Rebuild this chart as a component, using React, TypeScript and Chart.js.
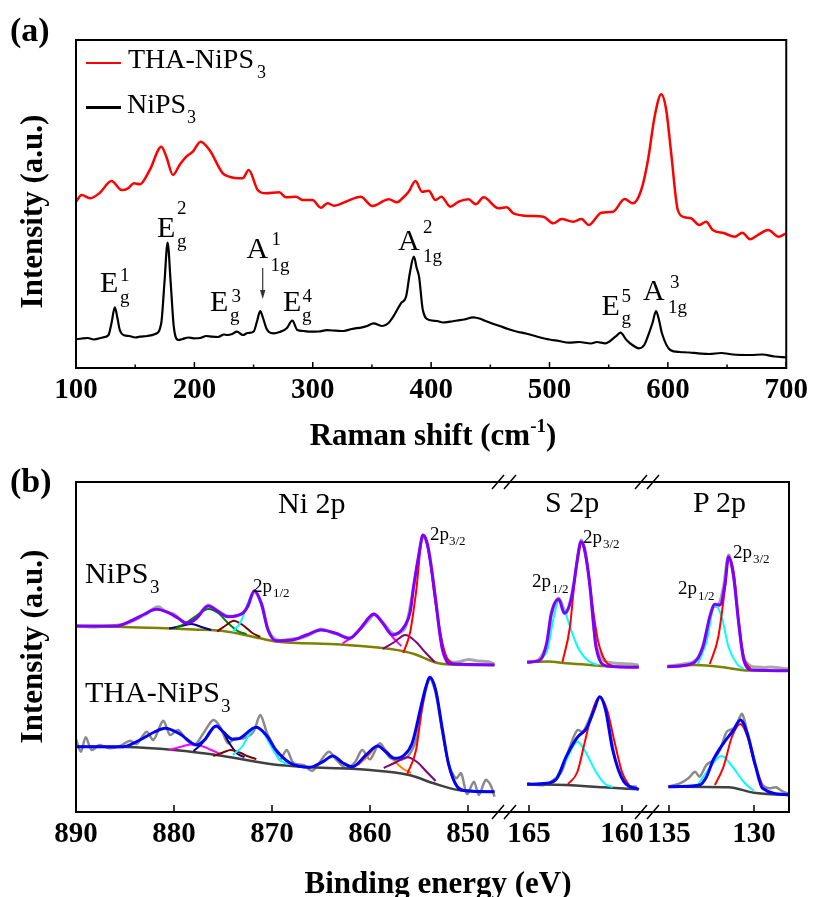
import React, { useEffect, useRef } from "react";
import { Chart, registerables } from "chart.js";
Chart.register(...registerables);

const SERIF = "'Liberation Serif', 'Times New Roman', Times, serif";
type P = [number, number];

// ---------- (a) Raman ----------
const ramanTicks = [100, 200, 300, 400, 500, 600, 700];
const ramanMinorTicks = [150, 250, 350, 450, 550, 650];

const ramanNiPS3: P[] = [
  [100, 28.7], [105, 29.5], [110, 30], [115, 28.5], [123, 30.7], [127.5, 33], [130, 45], [132.8, 60.7], [135, 50], [137, 38],
  [140.6, 32.7], [145, 32], [150, 30.5], [153.8, 31.3], [160, 32], [166.9, 34], [172, 44.7], [174.7, 85], [177.4, 125.3],
  [180, 85], [182.6, 41.3], [186.5, 28], [190, 29], [195, 30.5], [199.6, 29.7], [205, 30], [210, 32], [215, 31.3], [220, 31],
  [225, 33.5], [228, 33], [232, 34], [236, 36.3], [241, 33], [245, 35], [250, 36.3], [253, 47], [255.6, 57], [258, 50],
  [260.8, 39.7], [263, 36], [267, 34.7], [272, 36], [278, 39.7], [282.7, 47.3], [287, 38], [292, 37], [298, 36.3], [305, 36.5],
  [312, 37.8], [319.8, 37.3], [326, 37], [333, 39], [341.7, 40.7], [346, 42], [351.3, 44.7], [359, 42], [364, 45], [368, 51.3],
  [374.5, 64.7], [378.8, 71.3], [382, 94.7], [385.4, 111.3], [387.8, 100], [389.8, 91.3], [393, 58], [398.5, 48], [405, 47],
  [410, 45.5], [416, 46.3], [422, 47.5], [428, 48.5], [435.6, 50.7], [442, 49], [446, 47], [451, 44.7], [458, 42], [465, 39],
  [472.8, 36.3], [480, 34.5], [488, 32], [494.7, 29.7], [500, 28.5], [508, 27], [516.5, 25.3], [525, 26], [535, 24.5], [540, 26],
  [547, 24.7], [555.7, 31.3], [560, 35.3], [565, 28], [570, 23], [575.5, 19.7], [580, 23], [584, 34.7], [587, 45], [590, 57],
  [592.5, 48], [595, 34.7], [602, 18], [610, 16], [618, 15.5], [625.7, 14.7], [635, 14], [645, 15], [655, 13.5], [669.4, 13],
  [680, 13.5], [690, 11.5], [700, 10.7],
];

const ramanTHA: P[] = [
  [100, 166.3], [104.8, 173], [111.8, 169.7], [120.2, 175.3], [130, 187], [138.5, 178], [144, 179.7], [149, 184.7], [153.9, 183.7],
  [162.3, 198], [172.1, 221.3], [176.3, 211.3], [181.9, 193], [187.5, 203], [193.2, 211.3], [198.7, 216.3], [205.2, 226.3],
  [212.8, 218], [224, 194.7], [229.6, 191.3], [240.8, 189.7], [245.9, 198], [253.5, 178], [260.5, 174.7], [271.7, 175.7],
  [277.4, 170.7], [285.8, 171.3], [291.3, 168], [299.7, 168], [306.8, 160.3], [312.4, 164.7], [318, 162.3], [327.9, 166.3],
  [340.5, 171.3], [350.3, 162], [364.3, 168.7], [371.3, 165.7], [376, 170], [381, 176.3], [386.8, 187], [392.3, 176.3],
  [398, 177.3], [403.6, 168], [408.7, 171.3], [416.2, 161.3], [423.2, 166.3], [431.6, 168.7], [437.8, 163.7], [444.3, 170.7],
  [456.9, 159.7], [463.9, 160.7], [469.5, 154.7], [484.9, 152], [494.8, 151.3], [503.2, 144.7], [510.2, 149], [520, 146.3],
  [527, 149], [533.2, 143], [543.8, 155.3], [553.7, 156.3], [563.5, 169], [570.5, 164.7], [577.5, 178], [583.2, 208],
  [588.8, 251.3], [594.4, 273.7], [598.6, 258], [602.8, 214.7], [608.4, 158], [614.1, 150.7], [619.6, 149.7], [626.7, 143],
  [632.3, 146.3], [637.9, 138], [647.6, 134.7], [656.4, 131.3], [663, 135.3], [669.5, 128.7], [676, 133], [684.8, 138],
  [693.5, 131.3], [700, 134.7],
];

// ---------- (b) XPS ----------
const niTicks = [890, 880, 870, 860, 850];
const sTicks = [165, 160];
const pTicks = [135, 130];

// NiPS3, Ni 2p
const niEnvA: P[] = [
  [890, 186], [887.5, 186], [885.9, 186], [884.2, 192], [883, 198], [881.8, 202.7], [880.8, 200.3], [879.6, 194], [878.7, 188.7],
  [877.7, 193.7], [876.5, 206], [875.7, 202], [874.5, 195.3], [873, 198.7], [872.5, 205.3], [871.8, 221.3], [871.1, 208.7],
  [870.4, 182], [869.6, 171.3], [867.9, 172], [866.5, 177], [865, 182], [863.5, 178.7], [862.1, 173.7], [861.1, 182],
  [859.6, 198], [858.7, 188.7], [857.7, 177], [856.4, 187], [855.9, 200], [855.5, 228.7], [855, 258], [854.6, 277], [854.2, 270],
  [853.8, 248], [853.3, 212], [852.9, 180], [852.6, 162], [852.2, 151], [852, 148.7], [850, 147.5], [847.3, 147],
];
const niBgA: P[] = [
  [890, 186], [885.9, 185.3], [878, 182.5], [874.5, 180.3], [871.2, 173.7], [869.6, 170.5], [863, 167.5], [857.9, 163],
  [855.5, 158], [854, 152], [853, 148.7], [851, 147.3], [847.3, 147],
];
const niRawA: P[] = [
  [890, 186], [888, 185], [886, 186.5], [885, 188], [884, 192], [883, 197], [882, 204], [881.5, 205], [880.8, 200], [880, 198],
  [879, 190], [878, 191], [877.5, 197], [876.5, 207], [875.5, 201], [874.5, 196], [873.3, 197], [872.5, 205], [871.8, 220],
  [871, 207], [870.4, 182], [869.5, 172], [868, 173], [867, 174], [866, 178], [865, 183], [864, 180], [863, 177], [862, 174],
  [861, 183], [860, 193], [859.6, 198], [858.7, 190], [857.7, 179], [856.8, 180], [856.3, 187], [855.5, 228], [854.6, 276],
  [854, 262], [853.3, 212], [852.6, 163], [852, 151], [851, 150], [850, 152.5], [849, 151], [848, 150.5], [847.3, 148],
];
const niGreenA: P[] = [[879.8, 184], [878.8, 189], [877.6, 197], [876.5, 203], [875.5, 199], [874.5, 189], [873.5, 181], [872.6, 178]];
const niNavyA: P[] = [[880.5, 183.5], [879.3, 186], [878.2, 188], [877.2, 185], [876.2, 182]];
const niMaroonA: P[] = [[875.6, 180.5], [874.8, 186], [873.9, 191.3], [873, 187], [872, 179], [871.2, 175]];
const niCyanA: P[] = [[874, 180], [873.2, 190], [872.5, 208], [871.8, 221.3], [871.2, 210], [870.5, 186], [869.8, 172]];
const niMagentaA: P[] = [[862.8, 168.5], [861.6, 177], [860.5, 190], [859.6, 197], [858.7, 189], [857.7, 175], [856.8, 166]];
const niPurpleA: P[] = [[858.7, 163], [857.5, 170], [856.4, 177], [855.3, 170], [854.3, 159], [853.4, 150]];
const niRedA: P[] = [[856.6, 159], [855.9, 180], [855.3, 220], [854.6, 277], [854, 260], [853.4, 215], [852.8, 178], [852.2, 155], [851.5, 148]];

// THA-NiPS3, Ni 2p
const niEnvB: P[] = [
  [890, 65.3], [885.2, 65.3], [883.5, 72], [882, 80], [880.9, 83.7], [879.4, 78], [877.7, 67], [876.9, 72], [875.7, 86], [875, 80.3],
  [874, 72.7], [873.3, 73.7], [871.6, 84.7], [870.6, 77], [869.6, 62], [868.2, 49.3], [866.2, 44.7], [864.8, 50.3], [863.8, 56],
  [862.8, 49.3], [861.8, 45.3], [860.4, 57], [859.2, 66], [858.4, 60.3], [857.5, 53.7], [856.5, 57], [855.7, 68.7], [854.8, 105.3],
  [854.3, 125], [853.9, 134.7], [853.3, 122], [852.6, 82], [852, 48.7], [851.1, 25.3], [850.3, 21.3], [847.3, 20.3],
];
const niBgB: P[] = [
  [890, 65.3], [885, 65], [880, 62], [875, 56], [870, 47.7], [866, 44.7], [860, 42], [856, 37], [853.5, 28.7], [851, 22], [847.3, 20.3],
];
const niRawB: P[] = [
  [890, 72.7], [889.5, 60.3], [889, 74.7], [888.4, 62], [887.6, 67], [886.6, 63.7], [885.5, 66], [884.5, 71.3], [883.8, 68],
  [882.8, 80.3], [882.1, 72], [881.1, 91.3], [880.4, 77], [879.6, 82], [878.7, 72], [877.9, 67], [877, 78.7], [876, 92],
  [875.3, 85.3], [874.5, 68.7], [873.8, 73.7], [872.9, 73.7], [871.9, 80.3], [871.2, 97], [870.5, 78.7], [869.8, 65.3],
  [869.2, 52], [868.5, 62], [867.8, 48.7], [866.8, 47], [865.9, 41.3], [865.1, 50.3], [864.2, 60.3], [863.4, 52], [862.4, 43.7],
  [861.5, 50.3], [860.8, 62], [860, 52.7], [859, 68.7], [858, 54.7], [857, 52], [856.1, 56], [855.3, 72], [854.6, 108.7],
  [853.9, 133.7], [853.3, 118.7], [852.6, 78.7], [851.9, 45.3], [851.2, 33.7], [850.7, 38.7], [850.1, 18], [849.4, 30.3],
  [848.9, 17], [848.2, 32], [847.7, 27], [847.3, 15.3],
];
const niNavyB: P[] = [[878, 61], [877, 70], [876.3, 81], [875.7, 86], [875, 80], [874.3, 68], [873.5, 58], [872.8, 55]];
const niMagentaB: P[] = [[880.5, 62], [879.2, 65.5], [878.2, 67.5], [877.2, 66], [876.2, 62], [875.3, 58]];
const niMaroonB: P[] = [[876, 56], [875, 59.5], [874.2, 62], [873.3, 59.5], [872.4, 55.5], [871.6, 53]];
const niCyanB: P[] = [[874, 57], [873, 66], [872.3, 78], [871.6, 84.7], [870.8, 78], [870, 64], [869.2, 52], [868.4, 48]];
const niOrangeB: P[] = [[861.2, 47], [860.2, 56], [859.2, 66], [858.3, 61], [857.5, 51], [856.6, 43], [855.8, 39]];
const niPurpleB: P[] = [[858.6, 44], [857.4, 49.5], [856.2, 54.7], [855.2, 50], [854.2, 40], [853.3, 31]];
const niRedB: P[] = [[856.2, 38], [855.3, 62], [854.7, 103], [853.9, 134.7], [853.2, 118], [852.6, 80], [852, 48], [851.3, 28], [850.5, 22]];

// S 2p
const sEnvA: P[] = [
  [165.1, 149.7], [164.4, 152], [164.05, 168.7], [163.8, 198.7], [163.4, 212.7], [163.1, 198.7], [162.7, 215.3], [162.4, 252],
  [162.2, 270.3], [162, 262], [161.7, 222], [161.55, 192], [161.4, 165.3], [160.8, 146], [159.1, 144.7],
];
const sBgA: P[] = [[165.1, 150], [164, 150.5], [163, 148.7], [162, 147.5], [161, 146], [159.1, 145]];
const sRawA: P[] = [
  [165.1, 150], [164.5, 152], [164, 170], [163.8, 197], [163.4, 214], [163, 199], [162.6, 228], [162.2, 272], [161.8, 238],
  [161.4, 168], [161, 152], [160.5, 149], [160, 148.5], [159.5, 148], [159.1, 147],
];
const sCyanA: P[] = [[164.5, 151], [164, 163], [163.7, 192], [163.4, 211], [163.1, 202], [162.7, 180], [162.3, 162], [161.8, 151], [161.3, 147]];
const sRedA: P[] = [[163.2, 150], [162.8, 185], [162.5, 240], [162.2, 270], [161.9, 250], [161.6, 208], [161.3, 172], [160.9, 151], [160.5, 146]];

const sEnvB: P[] = [
  [165.1, 27.7], [164.05, 28.7], [163.5, 33.7], [163, 55.3], [162.4, 74.7], [161.9, 83.7], [161.5, 102], [161.2, 115.3],
  [160.9, 103.7], [160.5, 62], [159.9, 30.3], [159.1, 22.7],
];
const sBgB: P[] = [[165.1, 27.7], [163, 27], [161, 24.7], [159.1, 22.7]];
const sRawB: P[] = [
  [165.1, 28.7], [164.2, 27], [163.3, 38.7], [162.8, 65.3], [162.4, 82], [162.1, 80.3], [161.7, 95.3], [161.2, 115.3],
  [160.8, 95.3], [160.3, 48.7], [159.7, 27], [159.2, 25.3],
];
const sCyanB: P[] = [[163.6, 32], [163, 52], [162.4, 70.3], [161.9, 58], [161.4, 40], [160.9, 28], [160.5, 25]];
const sRedB: P[] = [[162.9, 28], [162.4, 40], [162, 70], [161.6, 100], [161.2, 115], [160.8, 102], [160.4, 70], [160, 40], [159.6, 26]];

// P 2p
const pEnvA: P[] = [
  [135.1, 145.3], [133.6, 148.7], [133, 165.3], [132.6, 195.3], [132.3, 207.7], [132, 207], [131.7, 228.7], [131.5, 255.3],
  [131.2, 235.3], [130.9, 188.7], [130.6, 152], [130.1, 142], [127.9, 141.3],
];
const pBgA: P[] = [[135.1, 145.3], [133.5, 147], [132.5, 146], [131.5, 144], [130.5, 141.5], [127.9, 141.3]];
const pRawA: P[] = [
  [135.1, 146], [134.5, 147], [134, 148.5], [133.6, 150], [133.2, 157], [132.8, 180], [132.4, 205], [132.1, 206], [131.8, 225],
  [131.5, 257], [131.2, 237], [130.9, 190], [130.6, 154], [130.2, 146], [129.8, 145], [129.4, 144.5], [129, 145], [128.5, 144], [127.9, 143],
];
const pCyanA: P[] = [[133.3, 148], [132.8, 170], [132.3, 207], [131.9, 195], [131.5, 165], [131, 148], [130.6, 143]];
const pRedA: P[] = [[132.6, 148], [132.1, 175], [131.7, 225], [131.5, 255], [131.2, 240], [130.9, 190], [130.6, 155], [130.2, 143]];

const pEnvB: P[] = [
  [135.04, 25.3], [133.2, 27], [132.8, 35], [132.4, 52], [131.8, 68.7], [131.2, 82], [130.8, 92], [130.4, 78.7], [129.9, 45.3],
  [129.5, 23.7], [127.9, 17],
];
const pBgB: P[] = [[135, 25.3], [131.5, 24.7], [130, 19.3], [127.9, 17]];
const pRawB: P[] = [
  [135.04, 25.3], [134.35, 28.7], [133.86, 33.7], [133.47, 40.3], [133.2, 35.3], [132.8, 47], [132.4, 52], [132, 62], [131.6, 80.3],
  [131.2, 83.7], [131, 88.7], [130.7, 98], [130.4, 80.3], [129.9, 47], [129.5, 27], [129.1, 23.7], [128.7, 24.7], [128.3, 20.3], [128, 18.7],
];
const pCyanB: P[] = [[133.3, 27], [132.7, 42], [131.9, 56], [131.3, 46], [130.6, 30], [130, 21]];
const pRedB: P[] = [[132.3, 27], [131.8, 45], [131.3, 75], [130.8, 88], [130.4, 76], [130, 50], [129.5, 25]];

// ---------- helpers ----------
const C = {
  violet: "#8000ff", olive: "#808000", grayA: "#a8a8a8", grayB: "#8a8a8a", bgB: "#404040",
  blue: "#0000ff", cyan: "#00ffff", red: "#ff0000", green: "#008000", maroon: "#800000",
  navy: "#000080", magenta: "#ff00ff", purple: "#800080", orange: "#ff8000",
};

function ds(pts: P[], color: string, width: number, raw = false) {
  return {
    data: pts.map(([x, y]) => ({ x, y })),
    borderColor: color,
    borderWidth: width,
    pointRadius: 0,
    fill: false,
    tension: raw ? 0.3 : 0.4,
    cubicInterpolationMode: raw ? "default" : "monotone",
  };
}

type FrameCfg = {
  left?: boolean; right?: boolean; top?: boolean; bottom?: boolean;
  major: number[]; minor?: number[]; majorLen: number; minorLen?: number; breakRight?: boolean;
};

function framePlugin(cfg: FrameCfg) {
  return {
    id: "frame",
    afterDraw(chart: any) {
      const { ctx, chartArea: a } = chart;
      const xs = chart.scales.x;
      ctx.save();
      ctx.strokeStyle = "#000";
      ctx.lineWidth = 2;
      ctx.lineCap = "square";
      ctx.beginPath();
      if (cfg.top) { ctx.moveTo(a.left, a.top); ctx.lineTo(a.right, a.top); }
      if (cfg.bottom) { ctx.moveTo(a.left, a.bottom); ctx.lineTo(a.right, a.bottom); }
      if (cfg.left) { ctx.moveTo(a.left, a.top); ctx.lineTo(a.left, a.bottom); }
      if (cfg.right) { ctx.moveTo(a.right, a.top); ctx.lineTo(a.right, a.bottom); }
      ctx.stroke();
      ctx.lineWidth = 1.5;
      ctx.lineCap = "butt";
      ctx.beginPath();
      for (const v of cfg.major) {
        const px = xs.getPixelForValue(v);
        ctx.moveTo(px, a.bottom); ctx.lineTo(px, a.bottom - cfg.majorLen);
      }
      for (const v of cfg.minor || []) {
        const px = xs.getPixelForValue(v);
        ctx.moveTo(px, a.bottom); ctx.lineTo(px, a.bottom - (cfg.minorLen || 3));
      }
      ctx.stroke();
      if (cfg.breakRight) {
        ctx.beginPath();
        for (const y of [a.top, a.bottom]) {
          for (const dx of [-12, 0]) {
            ctx.moveTo(a.right + dx, y + 7);
            ctx.lineTo(a.right + dx + 12, y - 7);
          }
        }
        ctx.stroke();
      }
      ctx.restore();
    },
  };
}

function makeConfig(opts: {
  datasets: any[]; min: number; max: number; reverse: boolean; ticks: number[];
  padL: number; padR: number; padT: number; axisH: number; yMax: number; frame: FrameCfg;
}) {
  return {
    type: "line",
    data: { datasets: opts.datasets },
    options: {
      responsive: false,
      animation: false,
      events: [],
      layout: { padding: { left: opts.padL, right: opts.padR, top: opts.padT, bottom: 0 } },
      plugins: { legend: { display: false }, tooltip: { enabled: false }, title: { display: false } },
      scales: {
        x: {
          type: "linear",
          min: opts.min,
          max: opts.max,
          reverse: opts.reverse,
          afterBuildTicks: (s: any) => { s.ticks = opts.ticks.map((v) => ({ value: v })); },
          afterFit: (s: any) => { s.height = opts.axisH; },
          grid: { display: false, drawTicks: false },
          border: { display: false },
          ticks: {
            font: { family: SERIF, size: 29, weight: "bold" },
            color: "#000",
            padding: 5,
            autoSkip: false,
            maxRotation: 0,
            minRotation: 0,
          },
        },
        y: { display: false, min: 0, max: opts.yMax },
      },
    },
    plugins: [framePlugin(opts.frame)],
  } as any;
}

function ChartBox({ config, top, height }: { config: any; top: number; height: number }) {
  const ref = useRef<HTMLCanvasElement>(null);
  useEffect(() => {
    const chart = new Chart(ref.current as HTMLCanvasElement, config);
    return () => chart.destroy();
  }, []);
  return (
    <canvas
      ref={ref}
      width={813}
      height={height}
      style={{ position: "absolute", left: 0, top, width: 813, height }}
    />
  );
}

function T({ x, b, size, bold, children, center }: { x: number; b: number; size: number; bold?: boolean; children: any; center?: boolean }) {
  return (
    <div
      style={{
        position: "absolute",
        left: x,
        top: b - 0.8375 * size,
        fontFamily: SERIF,
        fontSize: size,
        lineHeight: `${size}px`,
        fontWeight: bold ? 700 : 400,
        whiteSpace: "nowrap",
        color: "#000",
        transform: center ? "translateX(-50%)" : undefined,
      }}
    >
      {children}
    </div>
  );
}

function YTitle({ cx, cy }: { cx: number; cy: number }) {
  const size = 31;
  return (
    <div
      style={{
        position: "absolute",
        left: cx - 150,
        top: cy - size / 2,
        width: 300,
        height: size,
        lineHeight: `${size}px`,
        textAlign: "center",
        transform: "rotate(-90deg)",
        fontFamily: SERIF,
        fontWeight: 700,
        fontSize: size,
        whiteSpace: "nowrap",
      }}
    >
      Intensity (a.u.)
    </div>
  );
}

// Raman mode labels: base letter, sup, sub
const modeLabels = [
  { base: "E", bx: 100, bb: 292, sup: "1", sx: 120, sb: 281, sub: "g", ux: 120, ub: 303 },
  { base: "E", bx: 157, bb: 237, sup: "2", sx: 177, sb: 214, sub: "g", ux: 177, ub: 247 },
  { base: "A", bx: 246.5, bb: 258, sup: "1", sx: 271.5, sb: 245, sub: "1g", ux: 270.5, ub: 271 },
  { base: "E", bx: 210, bb: 311, sup: "3", sx: 231.5, sb: 302, sub: "g", ux: 230, ub: 321 },
  { base: "E", bx: 283, bb: 311, sup: "4", sx: 302.5, sb: 302, sub: "g", ux: 302, ub: 321 },
  { base: "A", bx: 398, bb: 250, sup: "2", sx: 423, sb: 233, sub: "1g", ux: 423, ub: 262 },
  { base: "E", bx: 601.5, bb: 315, sup: "5", sx: 621.5, sb: 302, sub: "g", ux: 621.5, ub: 324 },
  { base: "A", bx: 643, bb: 300, sup: "3", sx: 670, sb: 288, sub: "1g", ux: 668, ub: 313 },
];

const orbitalLabels = [
  { x: 253, b: 592, sub: "1/2", sx: 273, sb: 597 },
  { x: 430, b: 540, sub: "3/2", sx: 449, sb: 545 },
  { x: 532, b: 587, sub: "1/2", sx: 552, sb: 593 },
  { x: 583, b: 543, sub: "3/2", sx: 603, sb: 548 },
  { x: 678, b: 594, sub: "1/2", sx: 698, sb: 600 },
  { x: 733, b: 558, sub: "3/2", sx: 753, sb: 563 },
];

export default function App() {
  const ramanConfig = makeConfig({
    datasets: [ds(ramanTHA, C.red, 2.5), ds(ramanNiPS3, "#000", 2.2)],
    min: 100, max: 700, reverse: false, ticks: ramanTicks,
    padL: 76, padR: 24, padT: 40, axisH: 82, yMax: 328,
    frame: { left: true, right: true, top: true, bottom: true, major: ramanTicks, minor: ramanMinorTicks, majorLen: 6, minorLen: 3.5 },
  });

  const niConfig = makeConfig({
    datasets: [
      ds(niEnvA, C.violet, 3), ds(niEnvB, C.blue, 3),
      ds(niRedA, C.red, 2), ds(niPurpleA, C.purple, 2), ds(niMagentaA, C.magenta, 2), ds(niCyanA, C.cyan, 2),
      ds(niMaroonA, C.maroon, 2), ds(niGreenA, C.green, 2), ds(niNavyA, C.navy, 2),
      ds(niRedB, C.red, 2), ds(niPurpleB, C.purple, 2), ds(niOrangeB, C.orange, 2), ds(niCyanB, C.cyan, 2),
      ds(niMaroonB, C.maroon, 2), ds(niNavyB, C.navy, 2), ds(niMagentaB, C.magenta, 2),
      ds(niBgA, C.olive, 2.5), ds(niBgB, C.bgB, 2.5),
      ds(niRawA, C.grayA, 3, true), ds(niRawB, C.grayB, 2.5, true),
    ],
    min: 846.327, max: 890, reverse: true, ticks: niTicks,
    padL: 76, padR: 813 - 504, padT: 32, axisH: 85, yMax: 330,
    frame: { left: true, top: true, bottom: true, major: niTicks, majorLen: 7, breakRight: true },
  });

  const sConfig = makeConfig({
    datasets: [
      ds(sEnvA, C.violet, 3), ds(sEnvB, C.blue, 3),
      ds(sRedA, C.red, 2), ds(sCyanA, C.cyan, 2), ds(sRedB, C.red, 2), ds(sCyanB, C.cyan, 2),
      ds(sBgA, C.olive, 2.5), ds(sBgB, C.bgB, 2.5),
      ds(sRawA, C.grayA, 3, true), ds(sRawB, C.grayB, 2.5, true),
    ],
    min: 158.656, max: 166.344, reverse: true, ticks: sTicks,
    padL: 504, padR: 813 - 647, padT: 32, axisH: 85, yMax: 330,
    frame: { top: true, bottom: true, major: sTicks, majorLen: 7, breakRight: true },
  });

  const pConfig = makeConfig({
    datasets: [
      ds(pEnvA, C.violet, 3), ds(pEnvB, C.blue, 3),
      ds(pRedA, C.red, 2), ds(pCyanA, C.cyan, 2), ds(pRedB, C.red, 2), ds(pCyanB, C.cyan, 2),
      ds(pBgA, C.olive, 2.5), ds(pBgB, C.bgB, 2.5),
      ds(pRawA, C.grayA, 3, true), ds(pRawB, C.grayB, 2.5, true),
    ],
    min: 127.941, max: 136.294, reverse: true, ticks: pTicks,
    padL: 647, padR: 24, padT: 32, axisH: 85, yMax: 330,
    frame: { top: true, bottom: true, right: true, major: pTicks, majorLen: 7 },
  });

  return (
    <div style={{ position: "absolute", left: 0, top: 0, width: 813, height: 897, overflow: "hidden", background: "#fff" }}>
      <ChartBox config={ramanConfig} top={0} height={450} />
      <ChartBox config={niConfig} top={450} height={447} />
      <ChartBox config={sConfig} top={450} height={447} />
      <ChartBox config={pConfig} top={450} height={447} />

      {/* (a) texts */}
      <T x={10} b={41} size={34} bold>(a)</T>
      <div style={{ position: "absolute", left: 86, top: 61.5, width: 35, height: 2.5, background: C.red }} />
      <T x={128} b={68} size={28}>THA-NiPS</T>
      <T x={257} b={78} size={18}>3</T>
      <div style={{ position: "absolute", left: 86, top: 106, width: 35, height: 2.5, background: "#000" }} />
      <T x={127} b={113} size={28}>NiPS</T>
      <T x={187} b={123} size={18}>3</T>

      {modeLabels.map((m, i) => (
        <React.Fragment key={i}>
          <T x={m.bx} b={m.bb} size={30}>{m.base}</T>
          <T x={m.sx} b={m.sb} size={19}>{m.sup}</T>
          <T x={m.ux} b={m.ub} size={19}>{m.sub}</T>
        </React.Fragment>
      ))}
      <svg style={{ position: "absolute", left: 255, top: 265, width: 16, height: 40 }} width={16} height={40}>
        <line x1={7.7} y1={3} x2={7.7} y2={27} stroke="#333" strokeWidth={1.2} />
        <polygon points="5,25 10.4,25 7.7,34" fill="#333" />
      </svg>

      <YTitle cx={31} cy={211} />
      <div
        style={{
          position: "absolute", left: 433, top: 445 - 0.8375 * 31, transform: "translateX(-50%)",
          fontFamily: SERIF, fontWeight: 700, fontSize: 31, lineHeight: "31px", whiteSpace: "nowrap",
        }}
      >
        Raman shift (cm<span style={{ fontSize: 19, position: "relative", top: -13, lineHeight: 0 }}>-1</span>)
      </div>

      {/* (b) texts */}
      <T x={10} b={492} size={34} bold>(b)</T>
      <T x={278} b={513} size={30}>Ni 2p</T>
      <T x={545} b={512} size={30}>S 2p</T>
      <T x={693} b={512} size={30}>P 2p</T>
      <T x={85} b={583} size={30}>NiPS</T>
      <T x={150} b={593} size={19}>3</T>
      <T x={85} b={702} size={30}>THA-NiPS</T>
      <T x={221} b={711.5} size={19}>3</T>
      {orbitalLabels.map((o, i) => (
        <React.Fragment key={i}>
          <T x={o.x} b={o.b} size={19}>2p</T>
          <T x={o.sx} b={o.sb} size={13}>{o.sub}</T>
        </React.Fragment>
      ))}
      <YTitle cx={31} cy={646} />
      <T x={438} b={893} size={31} bold center>Binding energy (eV)</T>
    </div>
  );
}
